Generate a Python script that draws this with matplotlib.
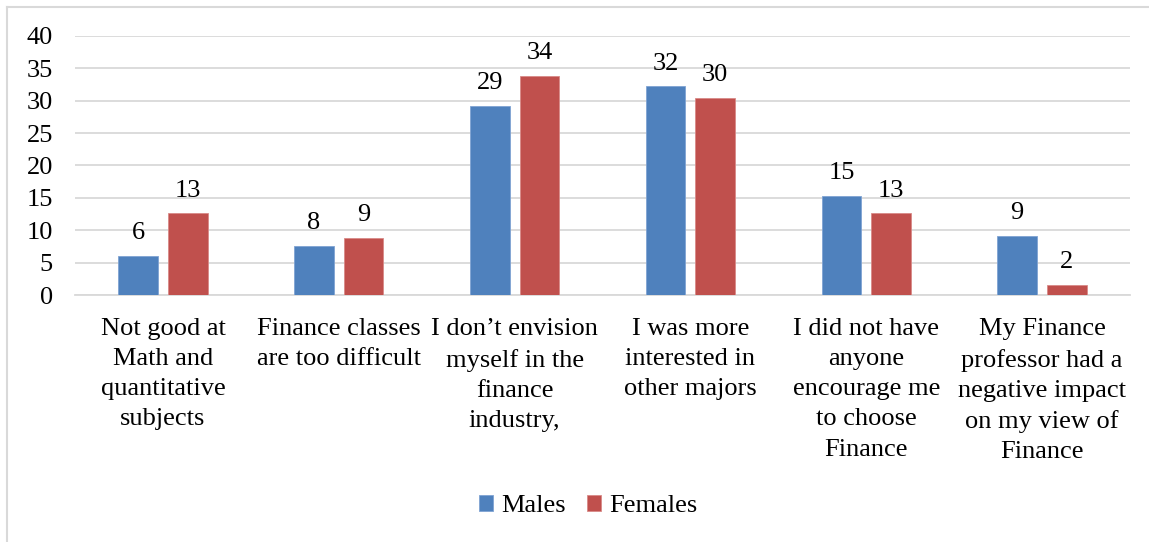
import matplotlib
matplotlib.use("Agg")
import matplotlib.pyplot as plt
from matplotlib.lines import Line2D
import numpy as np

categories = [
    "Not good at\nMath and\nquantitative\nsubjects",
    "Finance classes\nare too difficult",
    "I don\u2019t envision\nmyself in the\nfinance\nindustry,",
    "I was more\ninterested in\nother majors",
    "I did not have\nanyone\nencourage me\nto choose\nFinance",
    "My Finance\nprofessor had a\nnegative impact\non my view of\nFinance",
]
males = [6.0, 7.6, 29.2, 32.2, 15.3, 9.1]
females = [12.6, 8.8, 33.8, 30.4, 12.6, 1.6]
series_names = ["Males", "Females"]
y_ticks = [0, 5, 10, 15, 20, 25, 30, 35, 40]

BLUE = "#4F81BD"
RED = "#C0504D"
GRID = "#D9D9D9"
FONT = "Liberation Serif"
FS = 19

plt.rcParams["font.family"] = [FONT, "DejaVu Serif"]

fig = plt.figure(figsize=(11.49, 5.42), dpi=100)
ax = fig.add_axes([0.0653, 0.4557, 0.9181, 0.4779])

x = np.arange(len(categories))
width = 0.225
offset = 0.141

b1 = ax.bar(x - offset, males, width, color=BLUE, edgecolor="#7FA3D3", linewidth=0.6,
            label=series_names[0], zorder=3)
b2 = ax.bar(x + offset, females, width, color=RED, edgecolor="#D98A88", linewidth=0.6,
            label=series_names[1], zorder=3)

for bars, vals in ((b1, males), (b2, females)):
    for rect, v in zip(bars, vals):
        ax.annotate(f"{v:.0f}", xy=(rect.get_x() + rect.get_width() / 2, v),
                    xytext=(0, 12.0), textcoords="offset points",
                    ha="center", va="baseline", fontsize=FS, color="black")

ax.set_xlim(-0.5, len(categories) - 0.5)
ax.set_ylim(0, 40)
ax.set_yticks(y_ticks)
ax.set_yticklabels([str(t) for t in y_ticks], fontsize=FS)
ax.set_xticks(x)
ax.set_xticklabels(categories, fontsize=FS, linespacing=1.48)
ax.tick_params(axis="both", length=0)
ax.tick_params(axis="y", pad=16)
ax.tick_params(axis="x", pad=16.5)

ax.yaxis.grid(True, color=GRID, linewidth=1.3, zorder=0)
ax.set_axisbelow(True)
for side in ("top", "right", "left"):
    ax.spines[side].set_visible(False)
ax.spines["bottom"].set_color(GRID)
ax.spines["bottom"].set_linewidth(1.3)

fig.legend(handles=[b1, b2], labels=series_names, loc="center",
           bbox_to_anchor=(588 / 1149, 1 - 506 / 542), ncol=2, frameon=False,
           fontsize=FS, handlelength=0.55, handleheight=0.55,
           handletextpad=0.3, columnspacing=0.8)

# chart frame
fig.add_artist(Line2D([7 / 1149, 1.0], [1 - 7 / 542, 1 - 7 / 542],
                      transform=fig.transFigure, color=GRID, linewidth=1.5))
fig.add_artist(Line2D([7 / 1149, 7 / 1149], [0.0, 1 - 7 / 542],
                      transform=fig.transFigure, color=GRID, linewidth=1.5))

fig.savefig("out.png", dpi=100, facecolor="white")
